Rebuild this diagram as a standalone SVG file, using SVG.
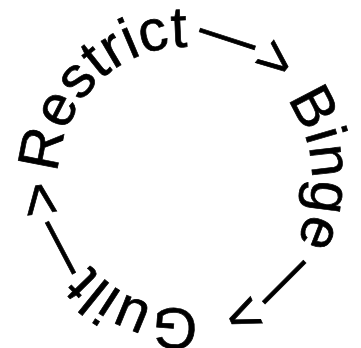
<svg xmlns="http://www.w3.org/2000/svg" xmlns:xlink="http://www.w3.org/1999/xlink" width="361" height="348" viewBox="0 0 361 348">
  <style>
    .t { font-family: "Liberation Sans", Arial, sans-serif; font-size: 58px; fill: #000; stroke: #000; stroke-width: 0.7px; letter-spacing: 0.5px; }
  </style>
  <defs>
    <path id="ring" d="M58,178 A127,131 0 1,1 312,178 A127,131 0 1,1 58,178" fill="none"/>
  </defs>
  <rect width="361" height="348" fill="#fff"/>
  <g id="restrict"><text class="t"><textPath xlink:href="#ring" href="#ring" startOffset="5">Restrict</textPath></text></g>
  <g id="binge"><text class="t"><textPath xlink:href="#ring" href="#ring" startOffset="321">Binge</textPath></text></g>
  <g id="guilt"><text class="t"><textPath xlink:href="#ring" href="#ring" startOffset="594">Guilt</textPath></text></g>
  <g id="connectors">
    <text class="t"><textPath xlink:href="#ring" href="#ring" startOffset="212">—&gt;</textPath></text>
    <text class="t"><textPath xlink:href="#ring" href="#ring" startOffset="480">—&gt;</textPath></text>
    <text class="t"><textPath xlink:href="#ring" href="#ring" startOffset="716">—&gt;</textPath></text>
  </g>
</svg>
